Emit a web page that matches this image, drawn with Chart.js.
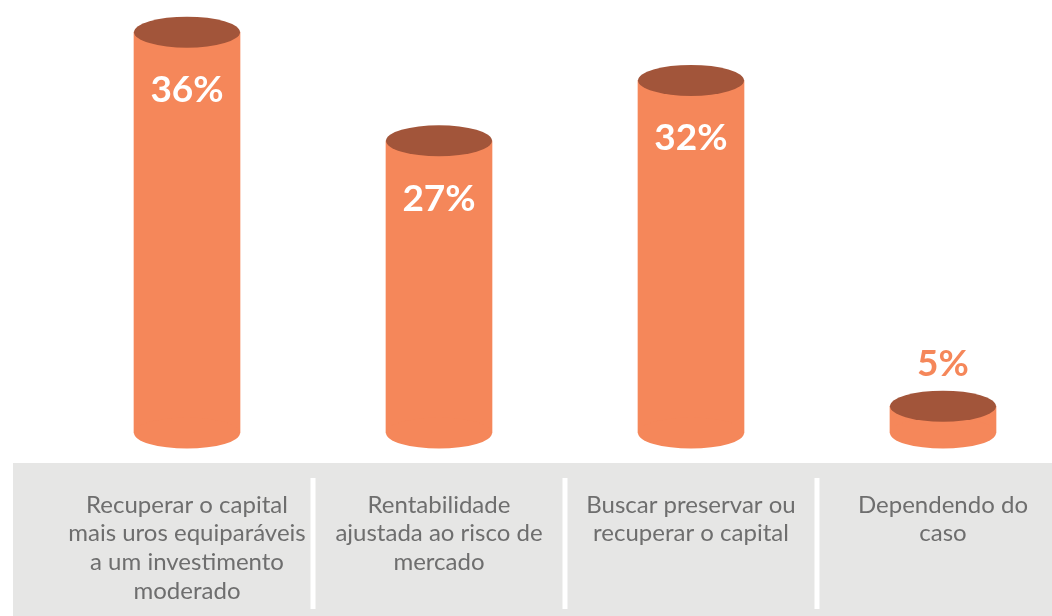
<!DOCTYPE html>
<html><head><meta charset="utf-8">
<script src="https://cdn.jsdelivr.net/npm/chart.js@4.4.0/dist/chart.umd.min.js"></script>
<style>html,body{margin:0;padding:0;background:#fff;} #wrap{width:1052px;height:616px;position:relative}</style>
</head><body><div id="wrap"><canvas id="c"></canvas></div>
<script>
const categories = [
  ["Recuperar o capital","mais uros equiparáveis","a um investimento","moderado"],
  ["Rentabilidade","ajustada ao risco de","mercado"],
  ["Buscar preservar ou","recuperar o capital"],
  ["Dependendo do","caso"]
];
const values = [36, 27, 32, 5];
const valueLabels = ["36%", "27%", "32%", "5%"];

const BODY = '#F5875A', TOP = '#A2553A', BAND = '#E6E6E5', TEXT = '#6E6E6E';
const RY = 15.5;

const bandPlugin = {
  id: 'band',
  beforeDraw(chart) {
    const ctx = chart.ctx, ca = chart.chartArea, xs = chart.scales.x;
    ctx.save();
    ctx.fillStyle = BAND;
    ctx.fillRect(13, ca.bottom - 3.5, chart.width - 13, chart.height);
    ctx.fillStyle = '#ffffff';
    for (let i = 0; i < values.length - 1; i++) {
      const mx = (xs.getPixelForTick(i) + xs.getPixelForTick(i + 1)) / 2;
      ctx.fillRect(mx - 2.5, ca.bottom + 11.5, 5, 131);
    }
    ctx.restore();
  }
};

const cylPlugin = {
  id: 'cyl',
  afterDatasetsDraw(chart) {
    const ctx = chart.ctx;
    const meta = chart.getDatasetMeta(0);
    ctx.save();
    meta.data.forEach((el, i) => {
      const p = el.getProps(['x', 'y', 'base', 'width'], true);
      const rx = p.width / 2;
      ctx.fillStyle = BODY;
      ctx.beginPath();
      ctx.ellipse(p.x, p.base, rx, RY, 0, 0, Math.PI * 2);
      ctx.fill();
      ctx.fillStyle = TOP;
      ctx.beginPath();
      ctx.ellipse(p.x, p.y, rx, RY, 0, 0, Math.PI * 2);
      ctx.fill();
      ctx.font = 'bold 37px Lato';
      ctx.textAlign = 'center';
      ctx.textBaseline = 'alphabetic';
      if (p.base - p.y > 100) {
        ctx.fillStyle = '#ffffff';
        ctx.fillText(valueLabels[i], p.x, p.y + 70);
      } else {
        ctx.fillStyle = BODY;
        ctx.fillText(valueLabels[i], p.x, p.y - 30);
      }
    });
    ctx.restore();
  }
};

new Chart(document.getElementById('c'), {
  type: 'bar',
  data: {
    labels: categories,
    datasets: [{
      data: values,
      backgroundColor: BODY,
      borderWidth: 0,
      barThickness: 106,
      base: 2.78,
      clip: false
    }]
  },
  options: {
    responsive: true,
    maintainAspectRatio: false,
    animation: false,
    layout: { padding: { left: 187, right: 100, top: 8, bottom: 9.5 } },
    plugins: { legend: { display: false }, tooltip: { enabled: false } },
    scales: {
      x: {
        offset: false,
        afterFit(scale) { scale.height = 140; },
        grid: { display: false, drawTicks: false },
        border: { display: false },
        ticks: {
          color: TEXT,
          font: { family: 'Lato', size: 24, lineHeight: '28.7px' },
          padding: 24,
          maxRotation: 0, minRotation: 0, autoSkip: false
        }
      },
      y: { display: false, min: 0, max: 38 }
    }
  },
  plugins: [bandPlugin, cylPlugin]
});
</script>
</body></html>
